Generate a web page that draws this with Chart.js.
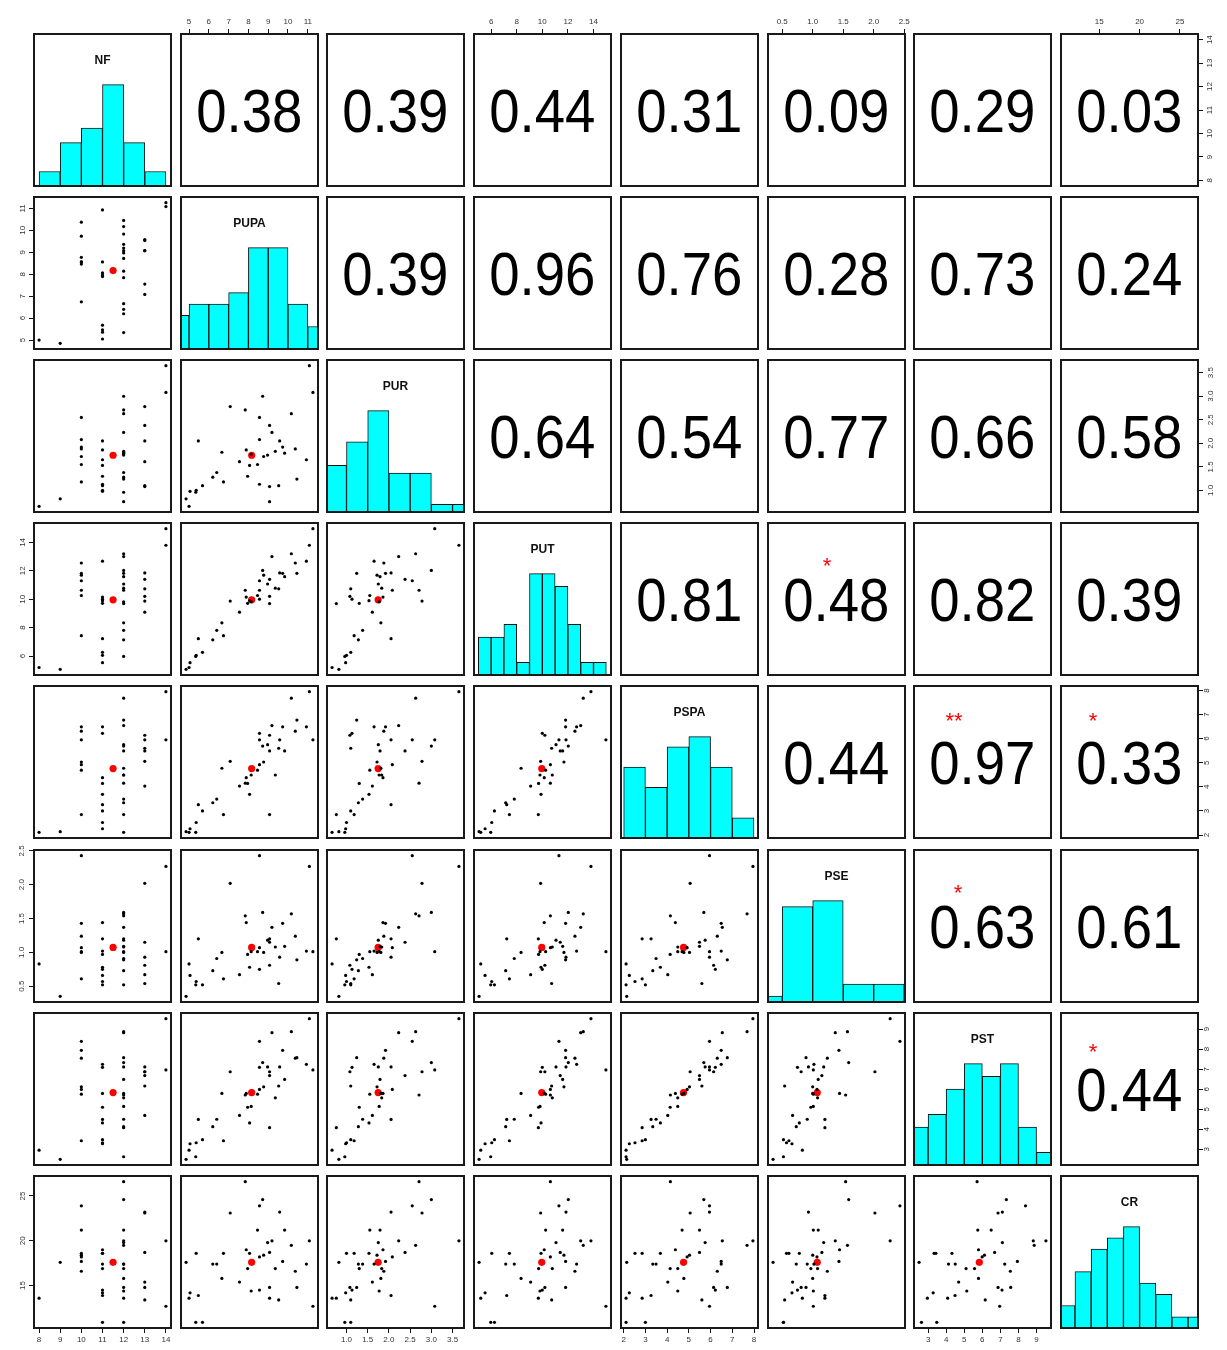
<!DOCTYPE html>
<html>
<head>
<meta charset="utf-8">
<script src="https://cdn.jsdelivr.net/npm/chart.js@4.4.1/dist/chart.umd.min.js"></script>
<style>
  html, body { margin: 0; padding: 0; background: #fff; overflow: hidden; }
  #wrap { position: relative; width: 1227px; height: 1350px; }
  canvas { position: absolute; }
  .num {
    position: absolute; display: flex; align-items: center; justify-content: center;
    font-family: "Liberation Sans", Arial, sans-serif; font-size: 62px; color: #000;
  }
  .num span { display: inline-block; transform: scaleX(0.88); }
  .star {
    position: absolute; transform: translate(-50%, -50%);
    font-family: "Liberation Sans", Arial, sans-serif; font-size: 22px; line-height: 1; color: #f00;
  }
  .vname {
    position: absolute; text-align: center;
    font-family: "Liberation Sans", Arial, sans-serif; font-size: 12px; font-weight: bold; color: #111;
  }
</style>
</head>
<body>
<div id="wrap"></div>
<script>
const VARS = ['NF', 'PUPA', 'PUR', 'PUT', 'PSPA', 'PSE', 'PST', 'CR'];

const NF   = [12, 12, 10, 13, 13, 10, 12, 12, 12, 12, 14, 11, 10, 11, 11, 10, 10, 13, 9, 12, 12, 11, 12, 10, 11, 10, 12, 13, 12, 13, 11, 12, 11, 11, 8, 12, 13, 14, 12, 11];
const PUPA = [7.84, 8.72, 8.56, 7.08, 9.58, 8.46, 9.83, 8.97, 9.19, 10.17, 11.08, 5.36, 6.74, 8.06, 7.89, 8.56, 8.77, 9.07, 4.85, 6.2, 6.4, 7.96, 9.36, 9.73, 10.93, 10.37, 6.66, 7.55, 10.45, 9.07, 8.56, 8.14, 5.05, 5.47, 5.0, 9.07, 9.53, 11.26, 5.34, 5.68];
const PUR  = [2.71, 3.0, 2.55, 2.78, 2.05, 1.55, 1.79, 1.75, 2.23, 2.63, 3.65, 1.0, 1.18, 1.53, 1.86, 2.08, 1.72, 2.38, 0.82, 1.28, 1.38, 1.3, 1.83, 1.92, 1.65, 1.88, 1.81, 1.61, 1.24, 1.08, 1.13, 1.77, 0.98, 2.05, 0.66, 0.76, 1.1, 3.08, 0.96, 1.1];
const PUT  = [10.63, 12.03, 11.3, 9.87, 11.85, 10.26, 11.59, 11.07, 13.0, 13.2, 13.8, 6.05, 7.43, 9.9, 10.15, 10.63, 11.69, 11.4, 5.06, 7.14, 7.81, 9.71, 10.78, 11.82, 12.68, 12.55, 8.34, 9.09, 11.82, 10.2, 10.0, 9.82, 5.53, 7.22, 5.19, 9.69, 10.73, 14.97, 5.97, 6.26];
const PSPA = [4.15, 5.69, 5.95, 5.06, 5.95, 4.69, 5.49, 5.75, 6.54, 7.68, 7.95, 2.52, 2.85, 3.69, 4.38, 4.92, 5.03, 5.49, 2.14, 3.34, 3.49, 4.14, 4.49, 6.49, 6.49, 6.31, 4.77, 4.03, 6.77, 6.14, 6.22, 4.49, 2.26, 3.26, 2.11, 2.85, 5.6, 5.95, 2.11, 3.0];
const PSE  = [1.54, 1.59, 2.43, 2.02, 0.93, 1.01, 1.09, 1.18, 1.37, 1.57, 2.27, 0.57, 0.61, 0.78, 1.44, 1.07, 1.0, 1.15, 0.35, 0.73, 0.91, 0.97, 1.08, 1.43, 1.02, 1.24, 1.0, 0.67, 0.89, 0.81, 0.75, 1.01, 0.66, 1.2, 0.83, 1.2, 0.54, 1.01, 0.52, 0.52];
const PST  = [5.71, 7.33, 8.39, 6.87, 7.11, 5.75, 6.49, 7.11, 8.82, 8.87, 9.52, 3.33, 3.43, 4.32, 5.79, 5.99, 6.12, 6.68, 2.5, 4.13, 4.5, 5.1, 5.57, 7.94, 7.24, 7.55, 5.79, 4.69, 7.57, 6.87, 7.09, 5.14, 3.28, 4.49, 2.96, 4.08, 6.16, 6.96, 2.63, 3.48];
const CR   = [26.6, 24.6, 23.9, 23.1, 23.2, 21.2, 21.2, 19.8, 20.0, 19.5, 20.0, 18.6, 18.6, 18.6, 19.0, 18.2, 18.4, 18.7, 17.6, 17.4, 17.4, 16.9, 16.9, 17.7, 17.4, 16.6, 15.8, 15.4, 14.8, 14.8, 14.5, 14.4, 14.2, 13.9, 13.6, 13.6, 13.4, 12.7, 10.9, 10.9];

// histogram breaks and bar counts on the diagonal
const NF_BREAKS   = [8, 9, 10, 11, 12, 13, 14];
const NF_COUNTS   = [2, 6, 8, 14, 6, 2];
const PUPA_BREAKS = [4, 5, 6, 7, 8, 9, 10, 11, 12];
const PUPA_COUNTS = [3, 4, 4, 5, 9, 9, 4, 2];
const PUR_BREAKS  = [0.5, 1, 1.5, 2, 2.5, 3, 3.5, 4];
const PUR_COUNTS  = [6, 9, 13, 5, 5, 1, 1];
const PUT_BREAKS  = [5, 6, 7, 8, 9, 10, 11, 12, 13, 14, 15];
const PUT_COUNTS  = [3, 3, 4, 1, 8, 8, 7, 4, 1, 1];
const PSPA_BREAKS = [2, 3, 4, 5, 6, 7, 8];
const PSPA_COUNTS = [7, 5, 9, 10, 7, 2];
const PSE_BREAKS  = [0, 0.5, 1, 1.5, 2, 2.5];
const PSE_COUNTS  = [1, 16, 17, 3, 3];
const PST_BREAKS  = [2, 3, 4, 5, 6, 7, 8, 9, 10];
const PST_COUNTS  = [3, 4, 6, 8, 7, 8, 3, 1];
const CR_BREAKS   = [10, 12, 14, 16, 18, 20, 22, 24, 26, 28];
const CR_COUNTS   = [2, 5, 7, 8, 9, 4, 3, 1, 1];

// upper triangle, row by row (columns to the right of the diagonal)
const CORR = [
  ['0.38', '0.39', '0.44', '0.31', '0.09', '0.29', '0.03'],
  ['0.39', '0.96', '0.76', '0.28', '0.73', '0.24'],
  ['0.64', '0.54', '0.77', '0.66', '0.58'],
  ['0.81', '0.48', '0.82', '0.39'],
  ['0.44', '0.97', '0.33'],
  ['0.63', '0.61'],
  ['0.44']
];
const STARS = [
  ['', '', '', '', '', '', ''],
  ['', '', '', '', '', ''],
  ['', '', '', '', ''],
  ['', '*', '', ''],
  ['', '**', '*'],
  ['*', ''],
  ['*']
];

const NF_TICKS   = ['8', '9', '10', '11', '12', '13', '14'];
const PUPA_TICKS = ['5', '6', '7', '8', '9', '10', '11'];
const PUR_TICKS  = ['1.0', '1.5', '2.0', '2.5', '3.0', '3.5'];
const PUT_TICKS  = ['6', '8', '10', '12', '14'];
const PSPA_TICKS = ['2', '3', '4', '5', '6', '7', '8'];
const PSE_TICKS  = ['0.5', '1.0', '1.5', '2.0', '2.5'];
const PST_TICKS  = ['3', '4', '5', '6', '7', '8', '9'];
const CR_TICKS   = ['15', '20', '25'];

const columns = { NF, PUPA, PUR, PUT, PSPA, PSE, PST, CR };
const tickLabels = { NF: NF_TICKS, PUPA: PUPA_TICKS, PUR: PUR_TICKS, PUT: PUT_TICKS, PSPA: PSPA_TICKS, PSE: PSE_TICKS, PST: PST_TICKS, CR: CR_TICKS };
const hists = {
  NF: [NF_BREAKS, NF_COUNTS], PUPA: [PUPA_BREAKS, PUPA_COUNTS], PUR: [PUR_BREAKS, PUR_COUNTS],
  PUT: [PUT_BREAKS, PUT_COUNTS], PSPA: [PSPA_BREAKS, PSPA_COUNTS], PSE: [PSE_BREAKS, PSE_COUNTS],
  PST: [PST_BREAKS, PST_COUNTS], CR: [CR_BREAKS, CR_COUNTS]
};

// star placement inside its box (offset from box top-left)
const starPos = { '3,5': [59, 38], '4,6': [40, 30], '4,7': [32, 30], '5,6': [44, 38], '6,7': [32, 34] };

const M = 36, X0 = 34, DX = 146.7, BW = 137, Y0 = 34, DY = 163.1, BH = 152;
const FONT = '"Liberation Sans", Arial, sans-serif';
const wrap = document.getElementById('wrap');

Chart.defaults.animation = false;
Chart.defaults.responsive = false;
Chart.defaults.events = [];

const framePlugin = {
  id: 'frame',
  afterDatasetsDraw(chart) {
    const { ctx, chartArea: a } = chart;
    ctx.save();
    ctx.strokeStyle = '#1a1a1a';
    ctx.lineWidth = 2;
    ctx.strokeRect(a.left, a.top, a.right - a.left, a.bottom - a.top);
    ctx.restore();
  }
};

function dataRange(v) {
  const lo = Math.min(...v), hi = Math.max(...v), p = (hi - lo) * 0.04;
  return [lo - p, hi + p];
}

function mean(v) { return v.reduce((s, a) => s + a, 0) / v.length; }

function valueAxis(name, axis, pos, shown) {
  const [lo, hi] = dataRange(columns[name]);
  const labels = tickLabels[name];
  const horizontal = axis === 'x';
  return {
    type: 'linear', position: pos, min: lo, max: hi, offset: false, display: shown,
    grid: { display: true, drawOnChartArea: false, drawTicks: true, tickLength: 5, color: '#111', lineWidth: 1 },
    border: { display: false },
    ticks: {
      display: true, autoSkip: false, color: '#333', padding: 2,
      font: { family: FONT, size: 8 },
      minRotation: horizontal ? 0 : 90, maxRotation: horizontal ? 0 : 90,
      crossAlign: horizontal ? 'near' : 'center',
      callback: (v, i) => labels[i]
    },
    afterBuildTicks: s => { s.ticks = labels.map(t => ({ value: parseFloat(t) })); },
    afterFit: s => {
      if (!shown) return;
      if (horizontal) s.height = M; else s.width = M;
      s.paddingLeft = s.paddingRight = s.paddingTop = s.paddingBottom = 0;
    }
  };
}

function panel(i, j) {
  const left = Math.round(X0 + j * DX), top = Math.round(Y0 + i * DY);
  const cv = document.createElement('canvas');
  cv.width = BW + 2 * M;
  cv.height = BH + 2 * M;
  cv.style.left = (left - M) + 'px';
  cv.style.top = (top - M) + 'px';
  wrap.appendChild(cv);

  const showTop = i === 0 && j % 2 === 1;
  const showBottom = i === 7 && j % 2 === 0;
  const showLeft = j === 0 && i % 2 === 1;
  const showRight = j === 7 && i % 2 === 0;
  const xName = VARS[j], yName = VARS[i];

  const scales = {
    x: valueAxis(xName, 'x', showTop ? 'top' : 'bottom', showTop || showBottom),
    y: valueAxis(yName, 'y', showRight ? 'right' : 'left', showLeft || showRight)
  };
  let type = 'scatter', datasets = [];

  if (i === j) {
    const [breaks, counts] = hists[xName];
    type = 'bar';
    scales.y = { type: 'linear', min: 0, max: Math.max(...counts) * 1.5, display: false };
    datasets = [{
      data: counts.map((c, k) => ({ x: (breaks[k] + breaks[k + 1]) / 2, y: c })),
      backgroundColor: '#00ffff', borderColor: '#111', borderWidth: 1, borderSkipped: false,
      barPercentage: 1, categoryPercentage: 1, clip: 0
    }];
  } else if (i > j) {
    const xs = columns[xName], ys = columns[yName];
    datasets = [
      { data: xs.map((x, k) => ({ x, y: ys[k] })), pointRadius: 1.6, backgroundColor: '#000', borderWidth: 0 },
      { data: [{ x: mean(xs), y: mean(ys) }], pointRadius: 3.6, backgroundColor: '#ff0000', borderWidth: 0 }
    ];
  }

  new Chart(cv, {
    type,
    data: { datasets },
    options: {
      layout: { padding: { top: showTop ? 0 : M, bottom: showBottom ? 0 : M, left: showLeft ? 0 : M, right: showRight ? 0 : M } },
      scales,
      plugins: { legend: { display: false }, tooltip: { enabled: false } }
    },
    plugins: [framePlugin]
  });

  if (i === j) {
    const lab = document.createElement('div');
    lab.className = 'vname';
    lab.style.cssText += `left:${left}px;top:${top + 19}px;width:${BW}px`;
    lab.textContent = xName;
    wrap.appendChild(lab);
  } else if (i < j) {
    const num = document.createElement('div');
    num.className = 'num';
    num.style.cssText += `left:${left}px;top:${top}px;width:${BW}px;height:${BH}px`;
    const sp = document.createElement('span');
    sp.textContent = CORR[i][j - i - 1];
    num.appendChild(sp);
    wrap.appendChild(num);
    const mark = STARS[i][j - i - 1];
    if (mark) {
      const [ox, oy] = starPos[i + ',' + j];
      const st = document.createElement('div');
      st.className = 'star';
      st.style.cssText += `left:${left + ox}px;top:${top + oy + 5}px`;
      st.textContent = mark;
      wrap.appendChild(st);
    }
  }
}

for (let i = 0; i < 8; i++) {
  for (let j = 0; j < 8; j++) panel(i, j);
}
</script>
</body>
</html>
